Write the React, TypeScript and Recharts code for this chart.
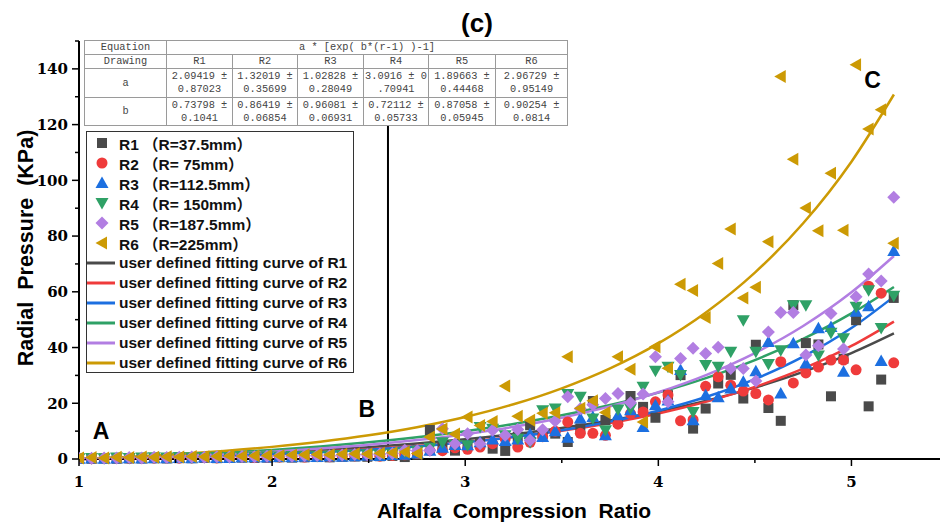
import { ComposedChart, Scatter, Line, XAxis, YAxis, ReferenceLine, ReferenceDot } from "recharts";

// compression ratio of every measured step (shared by all six series)
const ratio = [
  1.0, 1.065, 1.13, 1.195, 1.26, 1.325, 1.389, 1.454, 1.519, 1.584, 1.649, 1.714, 1.779, 1.844, 1.909, 1.974,
  2.038, 2.103, 2.168, 2.233, 2.298, 2.363, 2.428, 2.493, 2.558, 2.623, 2.687, 2.752, 2.817, 2.882, 2.947,
  3.012, 3.077, 3.142, 3.207, 3.272, 3.336, 3.401, 3.466, 3.531, 3.596, 3.661, 3.726, 3.791, 3.856, 3.921,
  3.985, 4.05, 4.115, 4.18, 4.245, 4.31, 4.375, 4.44, 4.505, 4.57, 4.634, 4.699, 4.764, 4.829, 4.894,
  4.959, 5.024, 5.089, 5.154, 5.219,
];

const r1 = [
  0.1, 0.1, 0.2, 0.1, 0.2, 0.2, 0.3, 0.2, 0.3, 0.3, 0.4, 0.3, 0.4, 0.5, 0.4, 0.5, 0.6, 0.5, 0.6, 0.7, 0.6, 0.8,
  0.9, 0.8, 1.0, 1.1, 0.7, 1.5, 10.4, 4.3, 3.0, 5.0, 6.0, 3.7, 2.9, 8.0, 12.1, 9.0, 9.1, 6.1, 11.0, 20.8, 14.0,
  13.3, 22.6, 18.7, 14.8, 22.9, 30.1, 10.9, 18.1, 27.1, 30.2, 21.7, 41.0, 18.3, 13.7, 55.2, 41.6, 41.1, 22.5,
  36.0, 49.8, 18.9, 28.5, 57.8,
];
const r2 = [
  0.2, 0.1, 0.2, 0.3, 0.2, 0.3, 0.3, 0.4, 0.3, 0.4, 0.5, 0.4, 0.5, 0.6, 0.5, 0.6, 0.7, 0.8, 0.7, 0.9, 0.8, 1.0,
  1.1, 1.2, 1.0, 1.3, 1.5, 2.0, 3.0, 3.0, 4.0, 3.5, 4.3, 5.5, 7.3, 4.3, 6.0, 8.0, 10.0, 13.3, 9.2, 9.2, 8.5,
  12.5, 16.3, 16.9, 20.5, 23.0, 13.7, 14.1, 26.1, 29.5, 26.5, 24.4, 23.5, 21.2, 34.9, 27.3, 30.9, 33.0, 35.5,
  35.5, 32.0, 62.0, 59.5, 34.5,
];
const r3 = [
  0.1, 0.2, 0.1, 0.2, 0.3, 0.2, 0.3, 0.3, 0.4, 0.3, 0.5, 0.4, 0.4, 0.5, 0.6, 0.5, 0.7, 0.6, 0.8, 0.7, 0.9, 0.8,
  1.0, 1.2, 1.1, 1.4, 1.5, 2.0, 3.0, 4.0, 5.0, 4.9, 6.0, 7.0, 6.5, 7.0, 9.0, 7.9, 10.0, 7.6, 14.5, 15.1, 8.5,
  15.7, 17.5, 11.5, 19.3, 21.0, 31.9, 13.9, 22.9, 22.2, 25.3, 27.7, 31.5, 42.0, 23.5, 41.5, 34.3, 46.9, 47.4,
  31.3, 52.8, 54.8, 35.2, 74.6,
];
const r4 = [
  0.3, 0.4, 0.3, 0.5, 0.4, 0.5, 0.6, 0.5, 0.7, 0.6, 0.7, 0.8, 0.7, 0.9, 0.8, 1.0, 0.9, 1.1, 1.2, 1.1, 1.3, 1.4,
  1.5, 1.7, 1.6, 1.9, 2.5, 3.0, 4.0, 6.0, 5.0, 4.9, 11.5, 10.9, 8.5, 7.3, 6.0, 17.5, 18.1, 23.3, 22.3, 14.5,
  10.3, 17.8, 18.1, 25.9, 31.7, 33.1, 30.1, 16.9, 33.7, 33.1, 38.5, 49.8, 38.5, 34.1, 39.0, 55.2, 55.2, 37.1,
  45.3, 43.3, 54.6, 60.6, 47.0, 58.6,
];
const r5 = [
  0.3, 0.3, 0.4, 0.4, 0.5, 0.4, 0.6, 0.5, 0.6, 0.7, 0.6, 0.8, 0.7, 0.9, 0.8, 1.0, 1.1, 1.0, 1.2, 1.3, 1.2, 1.4,
  1.6, 1.5, 1.8, 2.0, 3.1, 3.0, 3.1, 10.9, 5.5, 9.1, 5.5, 10.3, 8.5, 10.6, 6.7, 10.5, 13.6, 22.3, 18.0, 19.5,
  21.7, 23.5, 20.2, 23.3, 36.7, 20.5, 36.1, 39.7, 37.9, 40.1, 32.5, 32.5, 28.0, 45.6, 52.6, 52.6, 37.3, 40.6,
  52.2, 39.5, 58.2, 66.4, 63.9, 93.9,
];
const r6 = [
  0.4, 0.5, 0.4, 0.6, 0.5, 0.7, 0.6, 0.8, 0.7, 0.9, 0.8, 1.0, 1.1, 1.0, 1.2, 1.3, 1.2, 1.4, 1.5, 1.6, 1.5, 1.7,
  1.9, 1.8, 2.1, 2.2, 2.5, 2.0, 7.9, 10.8, 9.0, 15.1, 12.0, 13.5, 26.2, 15.3, 13.9, 16.4, 16.6, 36.7, 18.2,
  20.9, 16.7, 36.7, 32.2, 13.3, 40.3, 32.6, 62.7, 60.5, 50.8, 70.2, 82.5, 57.8, 61.6, 78.0, 137.3, 107.6, 90.1,
  81.9, 102.5, 82.1, 141.5, 118.4, 125.3, 77.4,
];

// fitted curves, read at steps of 0.25
const fitRatio = [1, 1.25, 1.5, 1.75, 2, 2.25, 2.5, 2.75, 3, 3.25, 3.5, 3.75, 4, 4.25, 4.5, 4.75, 5, 5.22];
const fitR1 = [0, 0.42, 0.94, 1.55, 2.29, 3.17, 4.24, 5.53, 7.07, 8.93, 11.16, 13.84, 17.07, 20.95, 25.63, 31.24, 37.99, 45.06];
const fitR2 = [0, 0.32, 0.71, 1.2, 1.81, 2.57, 3.51, 4.67, 6.12, 7.91, 10.13, 12.9, 16.32, 20.58, 25.86, 32.41, 40.56, 49.32];
const fitR3 = [0, 0.28, 0.63, 1.09, 1.66, 2.39, 3.32, 4.5, 6.0, 7.9, 10.33, 13.41, 17.33, 22.32, 28.66, 36.72, 46.98, 58.27];
const fitR4 = [0, 0.61, 1.34, 2.22, 3.27, 4.52, 6.03, 7.83, 9.99, 12.57, 15.67, 19.37, 23.81, 29.12, 35.49, 43.11, 52.23, 61.74];
const fitR5 = [0, 0.46, 1.03, 1.75, 2.63, 3.74, 5.1, 6.81, 8.92, 11.55, 14.82, 18.89, 23.95, 30.22, 38.03, 47.74, 59.81, 72.83];
const fitR6 = [0, 0.75, 1.69, 2.87, 4.35, 6.2, 8.52, 11.43, 15.08, 19.64, 25.37, 32.54, 41.52, 52.79, 66.9, 84.58, 106.7, 130.8];

const xTicks = [1, 1.5, 2, 2.5, 3, 3.5, 4, 4.5, 5, 5.5];
const yTicks = [0, 10, 20, 30, 40, 50, 60, 70, 80, 90, 100, 110, 120, 130, 140, 150];

const tableNames = ["R1", "R2", "R3", "R4", "R5", "R6"];
const tableA = ["2.09419 ±\n0.87023", "1.32019 ±\n0.35699", "1.02828 ±\n0.28049", "3.0916 ± 0\n.70941", "1.89663 ±\n0.44468", "2.96729 ±\n0.95149"];
const tableB = ["0.73798 ±\n0.1041", "0.86419 ±\n0.06854", "0.96081 ±\n0.06931", "0.72112 ±\n0.05733", "0.87058 ±\n0.05945", "0.90254 ±\n0.0814"];

const series = [
  { name: "R1", label: "R1 （R=37.5mm）", color: "#4a4a4a", shape: "square", values: r1, fit: fitR1 },
  { name: "R2", label: "R2 （R= 75mm）", color: "#ef3b3b", shape: "circle", values: r2, fit: fitR2 },
  { name: "R3", label: "R3 （R=112.5mm）", color: "#1c6fe0", shape: "up", values: r3, fit: fitR3 },
  { name: "R4", label: "R4 （R= 150mm）", color: "#2fa166", shape: "down", values: r4, fit: fitR4 },
  { name: "R5", label: "R5 （R=187.5mm）", color: "#b27ee2", shape: "diamond", values: r5, fit: fitR5 },
  { name: "R6", label: "R6 （R=225mm）", color: "#cc9a04", shape: "left", values: r6, fit: fitR6 },
];

const sans = "'Liberation Sans', Arial, 'Noto Sans CJK SC', sans-serif";
const tickFont = "'DejaVu Serif', serif";

function Marker({ kind, cx, cy, color }: { kind: string; cx: number; cy: number; color: string }) {
  if (cx == null || cy == null) return null;
  switch (kind) {
    case "square":
      return <rect x={cx - 5} y={cy - 5} width={10} height={10} fill={color} />;
    case "circle":
      return <circle cx={cx} cy={cy} r={5.5} fill={color} />;
    case "up":
      return <polygon points={`${cx},${cy - 6.5} ${cx + 6.5},${cy + 5} ${cx - 6.5},${cy + 5}`} fill={color} />;
    case "down":
      return <polygon points={`${cx - 6.5},${cy - 5} ${cx + 6.5},${cy - 5} ${cx},${cy + 6.5}`} fill={color} />;
    case "diamond":
      return <polygon points={`${cx},${cy - 6.5} ${cx + 6.5},${cy} ${cx},${cy + 6.5} ${cx - 6.5},${cy}`} fill={color} />;
    default:
      return <polygon points={`${cx - 6.5},${cy} ${cx + 5},${cy - 6.5} ${cx + 5},${cy + 6.5}`} fill={color} />;
  }
}

function YTick({ x, y, payload }: any) {
  const major = payload.value % 20 === 0;
  return (
    <g>
      <line x1={x} x2={x - (major ? 7 : 4)} y1={y} y2={y} stroke="#000" strokeWidth={1.5} />
      {major && (
        <text x={x - 11} y={y} dy="0.36em" textAnchor="end" fontFamily={tickFont} fontWeight="bold" fontSize={15} fill="#000">
          {payload.value}
        </text>
      )}
    </g>
  );
}

function XTick({ x, y, payload }: any) {
  const major = Number.isInteger(payload.value);
  return (
    <g>
      <line x1={x} x2={x} y1={y} y2={y + (major ? 7 : 4)} stroke="#000" strokeWidth={1.5} />
      {major && (
        <text x={x} y={y + 28} textAnchor="middle" fontFamily={tickFont} fontWeight="bold" fontSize={15} fill="#000">
          {payload.value}
        </text>
      )}
    </g>
  );
}

function Letter(text: string) {
  return (p: any) => (
    <text x={p.cx} y={p.cy} dy="0.36em" textAnchor="middle" fontFamily={sans} fontWeight="bold" fontSize={23} fill="#000">
      {text}
    </text>
  );
}

const cell: any = {
  border: "1px solid #9a9a9a",
  padding: 0,
  textAlign: "center",
  whiteSpace: "pre",
  lineHeight: "13px",
  fontFamily: "'Liberation Mono', monospace",
  fontSize: 10.3,
  color: "#444",
  overflow: "visible",
};

export default function App() {
  return (
    <div style={{ position: "absolute", left: 0, top: 0, width: 940, height: 525, overflow: "hidden", background: "#fff" }}>
      <ComposedChart width={960} height={525} margin={{ top: 41, right: 12, bottom: 36, left: 19 }}>
        <XAxis
          type="number"
          dataKey="x"
          domain={[1, 5.5]}
          ticks={xTicks}
          interval={0}
          height={30}
          tickSize={0}
          tickMargin={0}
          tick={<XTick />}
          axisLine={{ stroke: "#000", strokeWidth: 2 }}
          allowDataOverflow
        />
        <YAxis
          type="number"
          domain={[0, 150]}
          ticks={yTicks}
          interval={0}
          width={60}
          tickSize={0}
          tickMargin={0}
          tick={<YTick />}
          axisLine={{ stroke: "#000", strokeWidth: 2 }}
        />
        <ReferenceLine segment={[{ x: 2.6, y: 0 }, { x: 2.6, y: 120 }]} stroke="#000" strokeWidth={2} />
        {series.map((s) => (
          <Scatter
            key={s.name}
            name={s.name}
            data={ratio.map((x, i) => ({ x, y: s.values[i] }))}
            dataKey="y"
            isAnimationActive={false}
            shape={(p: any) => <Marker kind={s.shape} cx={p.cx} cy={p.cy} color={s.color} />}
          />
        ))}
        {series.map((s) => (
          <Line
            key={"fit" + s.name}
            data={fitRatio.map((x, i) => ({ x, y: s.fit[i] }))}
            dataKey="y"
            type="monotone"
            stroke={s.color}
            strokeWidth={2.5}
            dot={false}
            activeDot={false}
            isAnimationActive={false}
          />
        ))}
        <ReferenceDot x={1.114} y={10.3} r={0} shape={Letter("A")} />
        <ReferenceDot x={2.49} y={18.2} r={0} shape={Letter("B")} />
        <ReferenceDot x={5.11} y={136} r={0} shape={Letter("C")} />
      </ComposedChart>

      <svg width={940} height={525} style={{ position: "absolute", left: 0, top: 0, pointerEvents: "none" }}>
        <text x={477} y={32} textAnchor="middle" fontFamily={sans} fontWeight="bold" fontSize={26}>
          (c)
        </text>
        <text x={514} y={518} textAnchor="middle" fontFamily={sans} fontWeight="bold" fontSize={21} style={{ whiteSpace: "pre" }}>
          {"Alfalfa  Compression  Ratio"}
        </text>
        <text
          transform="translate(33,248) rotate(-90)"
          textAnchor="middle"
          fontFamily={sans}
          fontWeight="bold"
          fontSize={21.5}
          style={{ whiteSpace: "pre" }}
        >
          {"Radial  Pressure  (KPa)"}
        </text>
      </svg>

      <table
        style={{
          position: "absolute",
          left: 84,
          top: 40,
          width: 483,
          borderCollapse: "collapse",
          tableLayout: "fixed",
          background: "#fff",
          border: "1.5px solid #333",
        }}
      >
        <colgroup>
          <col style={{ width: 82 }} />
          <col style={{ width: 66 }} />
          <col style={{ width: 65 }} />
          <col style={{ width: 66 }} />
          <col style={{ width: 65 }} />
          <col style={{ width: 67 }} />
          <col style={{ width: 72 }} />
        </colgroup>
        <tbody>
          <tr style={{ height: 14 }}>
            <td style={cell}>Equation</td>
            <td style={cell} colSpan={6}>
              a * [exp( b*(r-1) )-1]
            </td>
          </tr>
          <tr style={{ height: 14 }}>
            <td style={cell}>Drawing</td>
            {tableNames.map((n) => (
              <td key={n} style={cell}>
                {n}
              </td>
            ))}
          </tr>
          <tr style={{ height: 29 }}>
            <td style={cell}>a</td>
            {tableA.map((v, i) => (
              <td key={i} style={cell}>
                {v}
              </td>
            ))}
          </tr>
          <tr style={{ height: 28 }}>
            <td style={cell}>b</td>
            {tableB.map((v, i) => (
              <td key={i} style={cell}>
                {v}
              </td>
            ))}
          </tr>
        </tbody>
      </table>

      <div
        style={{
          position: "absolute",
          left: 86,
          top: 131,
          width: 266,
          height: 240,
          border: "1.5px solid #333",
          background: "#fff",
          fontFamily: sans,
          fontWeight: "bold",
          fontSize: 15.5,
          color: "#111",
        }}
      >
        {series.map((s, i) => (
          <div key={s.name} style={{ position: "absolute", left: 0, top: 1 + i * 20, height: 20, display: "flex", alignItems: "center" }}>
            <svg width={32} height={20}>
              <Marker kind={s.shape} cx={15} cy={10} color={s.color} />
            </svg>
            <span style={{ whiteSpace: "pre" }}>{s.label}</span>
          </div>
        ))}
        {series.map((s, i) => (
          <div key={"l" + s.name} style={{ position: "absolute", left: 0, top: 121 + i * 20, height: 20, display: "flex", alignItems: "center" }}>
            <svg width={32} height={20}>
              <line x1={0} x2={28} y1={10} y2={10} stroke={s.color} strokeWidth={3} />
            </svg>
            <span style={{ whiteSpace: "pre" }}>{"user defined fitting curve of " + s.name}</span>
          </div>
        ))}
      </div>
    </div>
  );
}
